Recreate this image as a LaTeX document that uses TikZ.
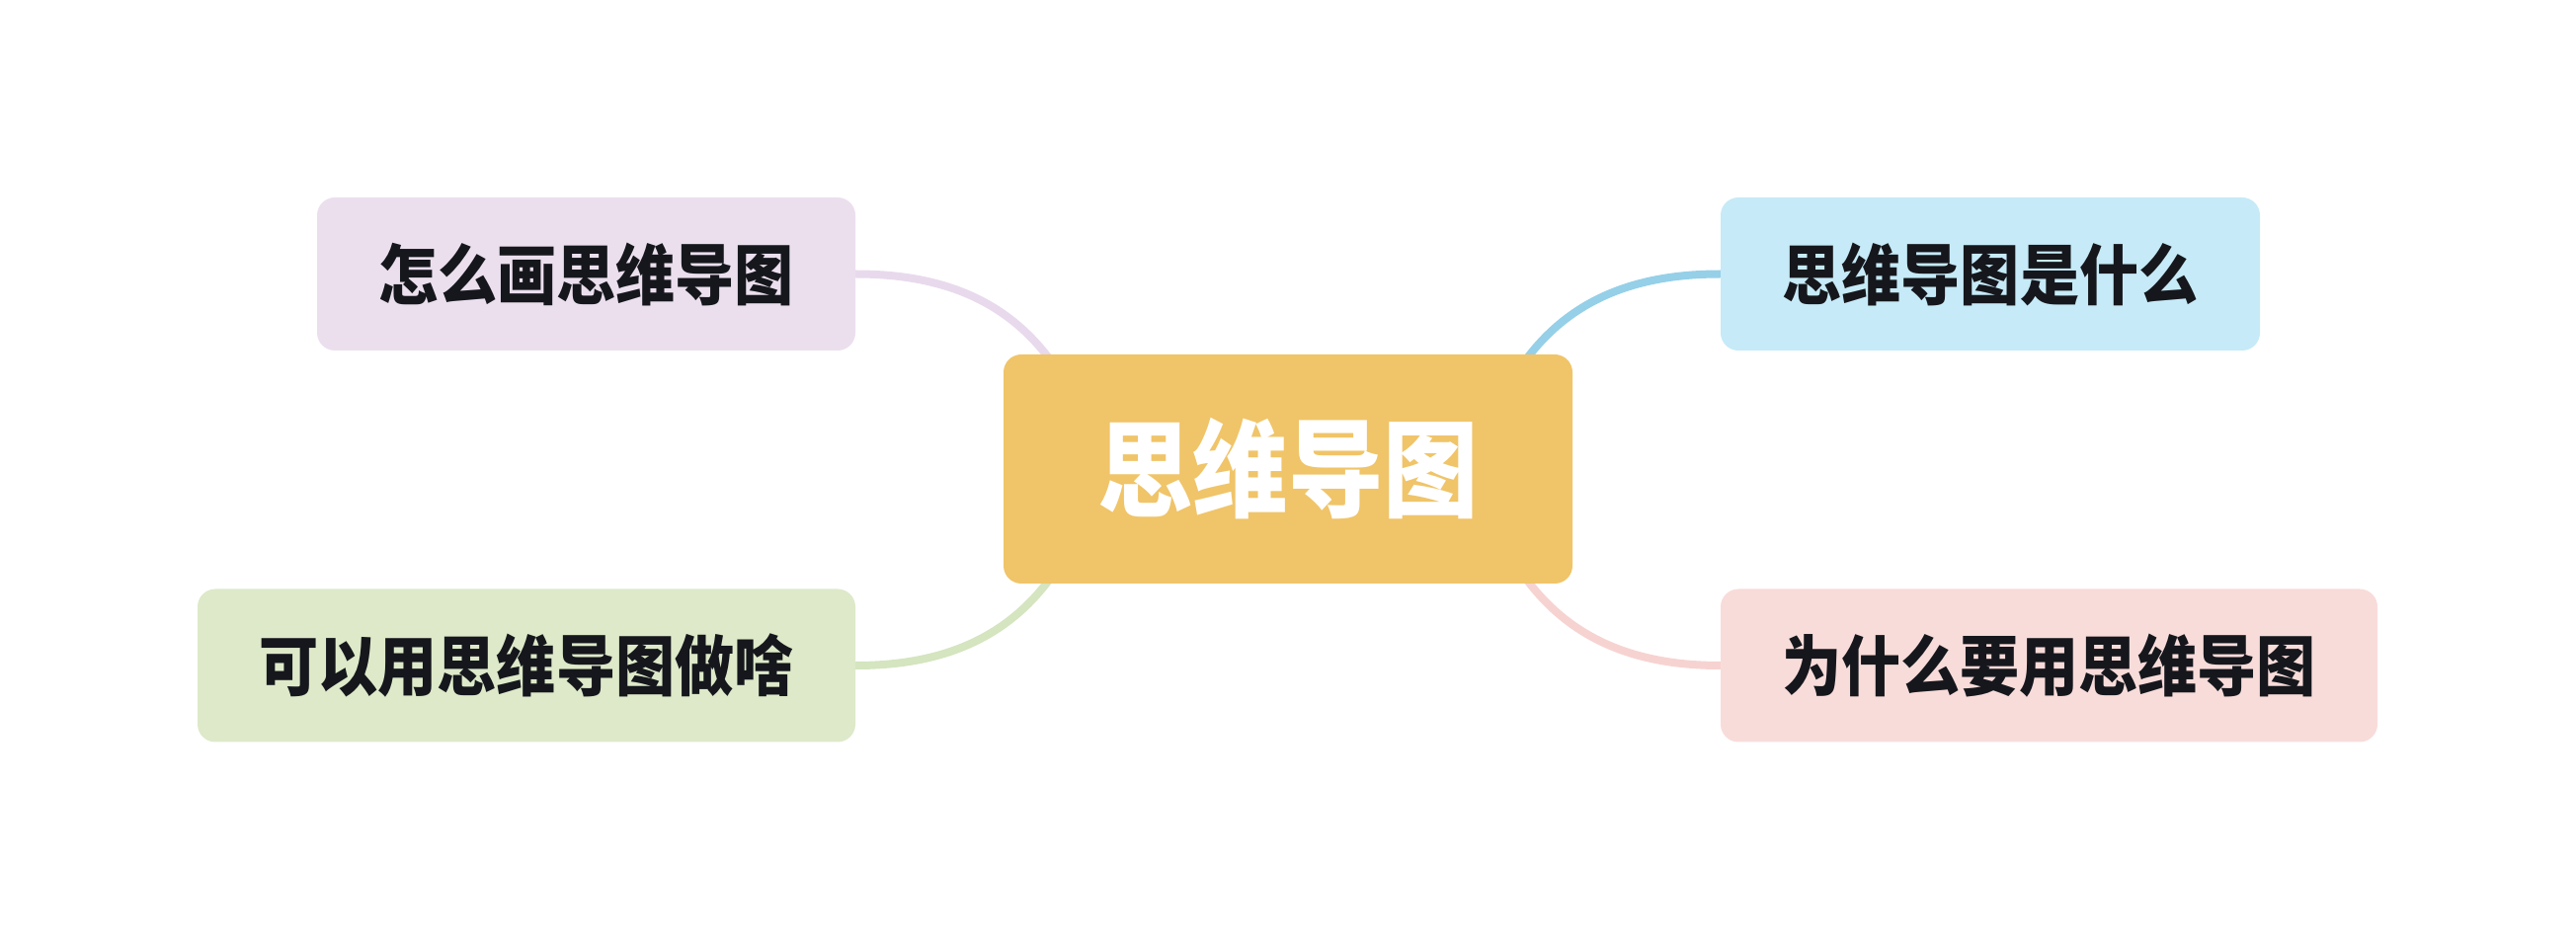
\documentclass[tikz,border=0pt]{standalone}
\usepackage{fontspec}
\newfontfamily\cjk[FakeStretch=0.9]{Noto Sans CJK SC}
\usetikzlibrary{backgrounds}
\definecolor{hubfill}{HTML}{F0C468}
\definecolor{howfill}{HTML}{EBDFEE}
\definecolor{howline}{HTML}{E8DAEC}
\definecolor{usefill}{HTML}{DDE9C9}
\definecolor{useline}{HTML}{D4E5BF}
\definecolor{whatfill}{HTML}{C6EAF7}
\definecolor{whatline}{HTML}{95D0E8}
\definecolor{whyfill}{HTML}{F8DCDA}
\definecolor{whyline}{HTML}{F6D3D1}
\definecolor{ink}{HTML}{15171C}
\begin{document}
\begin{tikzpicture}[
    topic/.style={rounded corners=0.18cm, inner sep=0pt, align=center, text=ink,
        font=\cjk\bfseries\fontsize{19}{22}\selectfont, minimum height=1.55cm},
    hub/.style={topic, fill=hubfill, text=white, minimum width=5.76cm, minimum height=2.32cm,
        font=\cjk\bfseries\fontsize{30.5}{34}\selectfont},
    branch/.style={line width=0.8mm, line cap=round}]
    \useasboundingbox (0,0) rectangle (26.08,9.52);
    %nodes
    \node[hub] at (13.04,4.77) (hub) {思维导图};
    \node[topic, fill=howfill, minimum width=5.45cm] at (5.935,6.745) (how) {怎么画思维导图};
    \node[topic, fill=usefill, minimum width=6.66cm] at (5.33,2.78) (use) {可以用思维导图做啥};
    \node[topic, fill=whatfill, minimum width=5.46cm] at (20.15,6.745) (what) {思维导图是什么};
    \node[topic, fill=whyfill, minimum width=6.65cm] at (20.745,2.78) (why) {为什么要用思维导图};
    \coordinate (howend) at (11.0,5.2);
    \coordinate (useend) at (11.0,4.34);
    \coordinate (whatend) at (15.08,5.2);
    \coordinate (whyend) at (15.08,4.34);
    %branches
    \begin{scope}[on background layer]
        \draw[branch, howline] (how.east) .. controls +(1.24,0) and +(-0.4,1.0) .. (howend);
        \draw[branch, useline] (use.east) .. controls +(1.24,0) and +(-0.4,-1.0) .. (useend);
        \draw[branch, whatline] (what.west) .. controls +(-1.24,0) and +(0.4,1.0) .. (whatend);
        \draw[branch, whyline] (why.west) .. controls +(-1.24,0) and +(0.4,-1.0) .. (whyend);
    \end{scope}
\end{tikzpicture}
\end{document}
